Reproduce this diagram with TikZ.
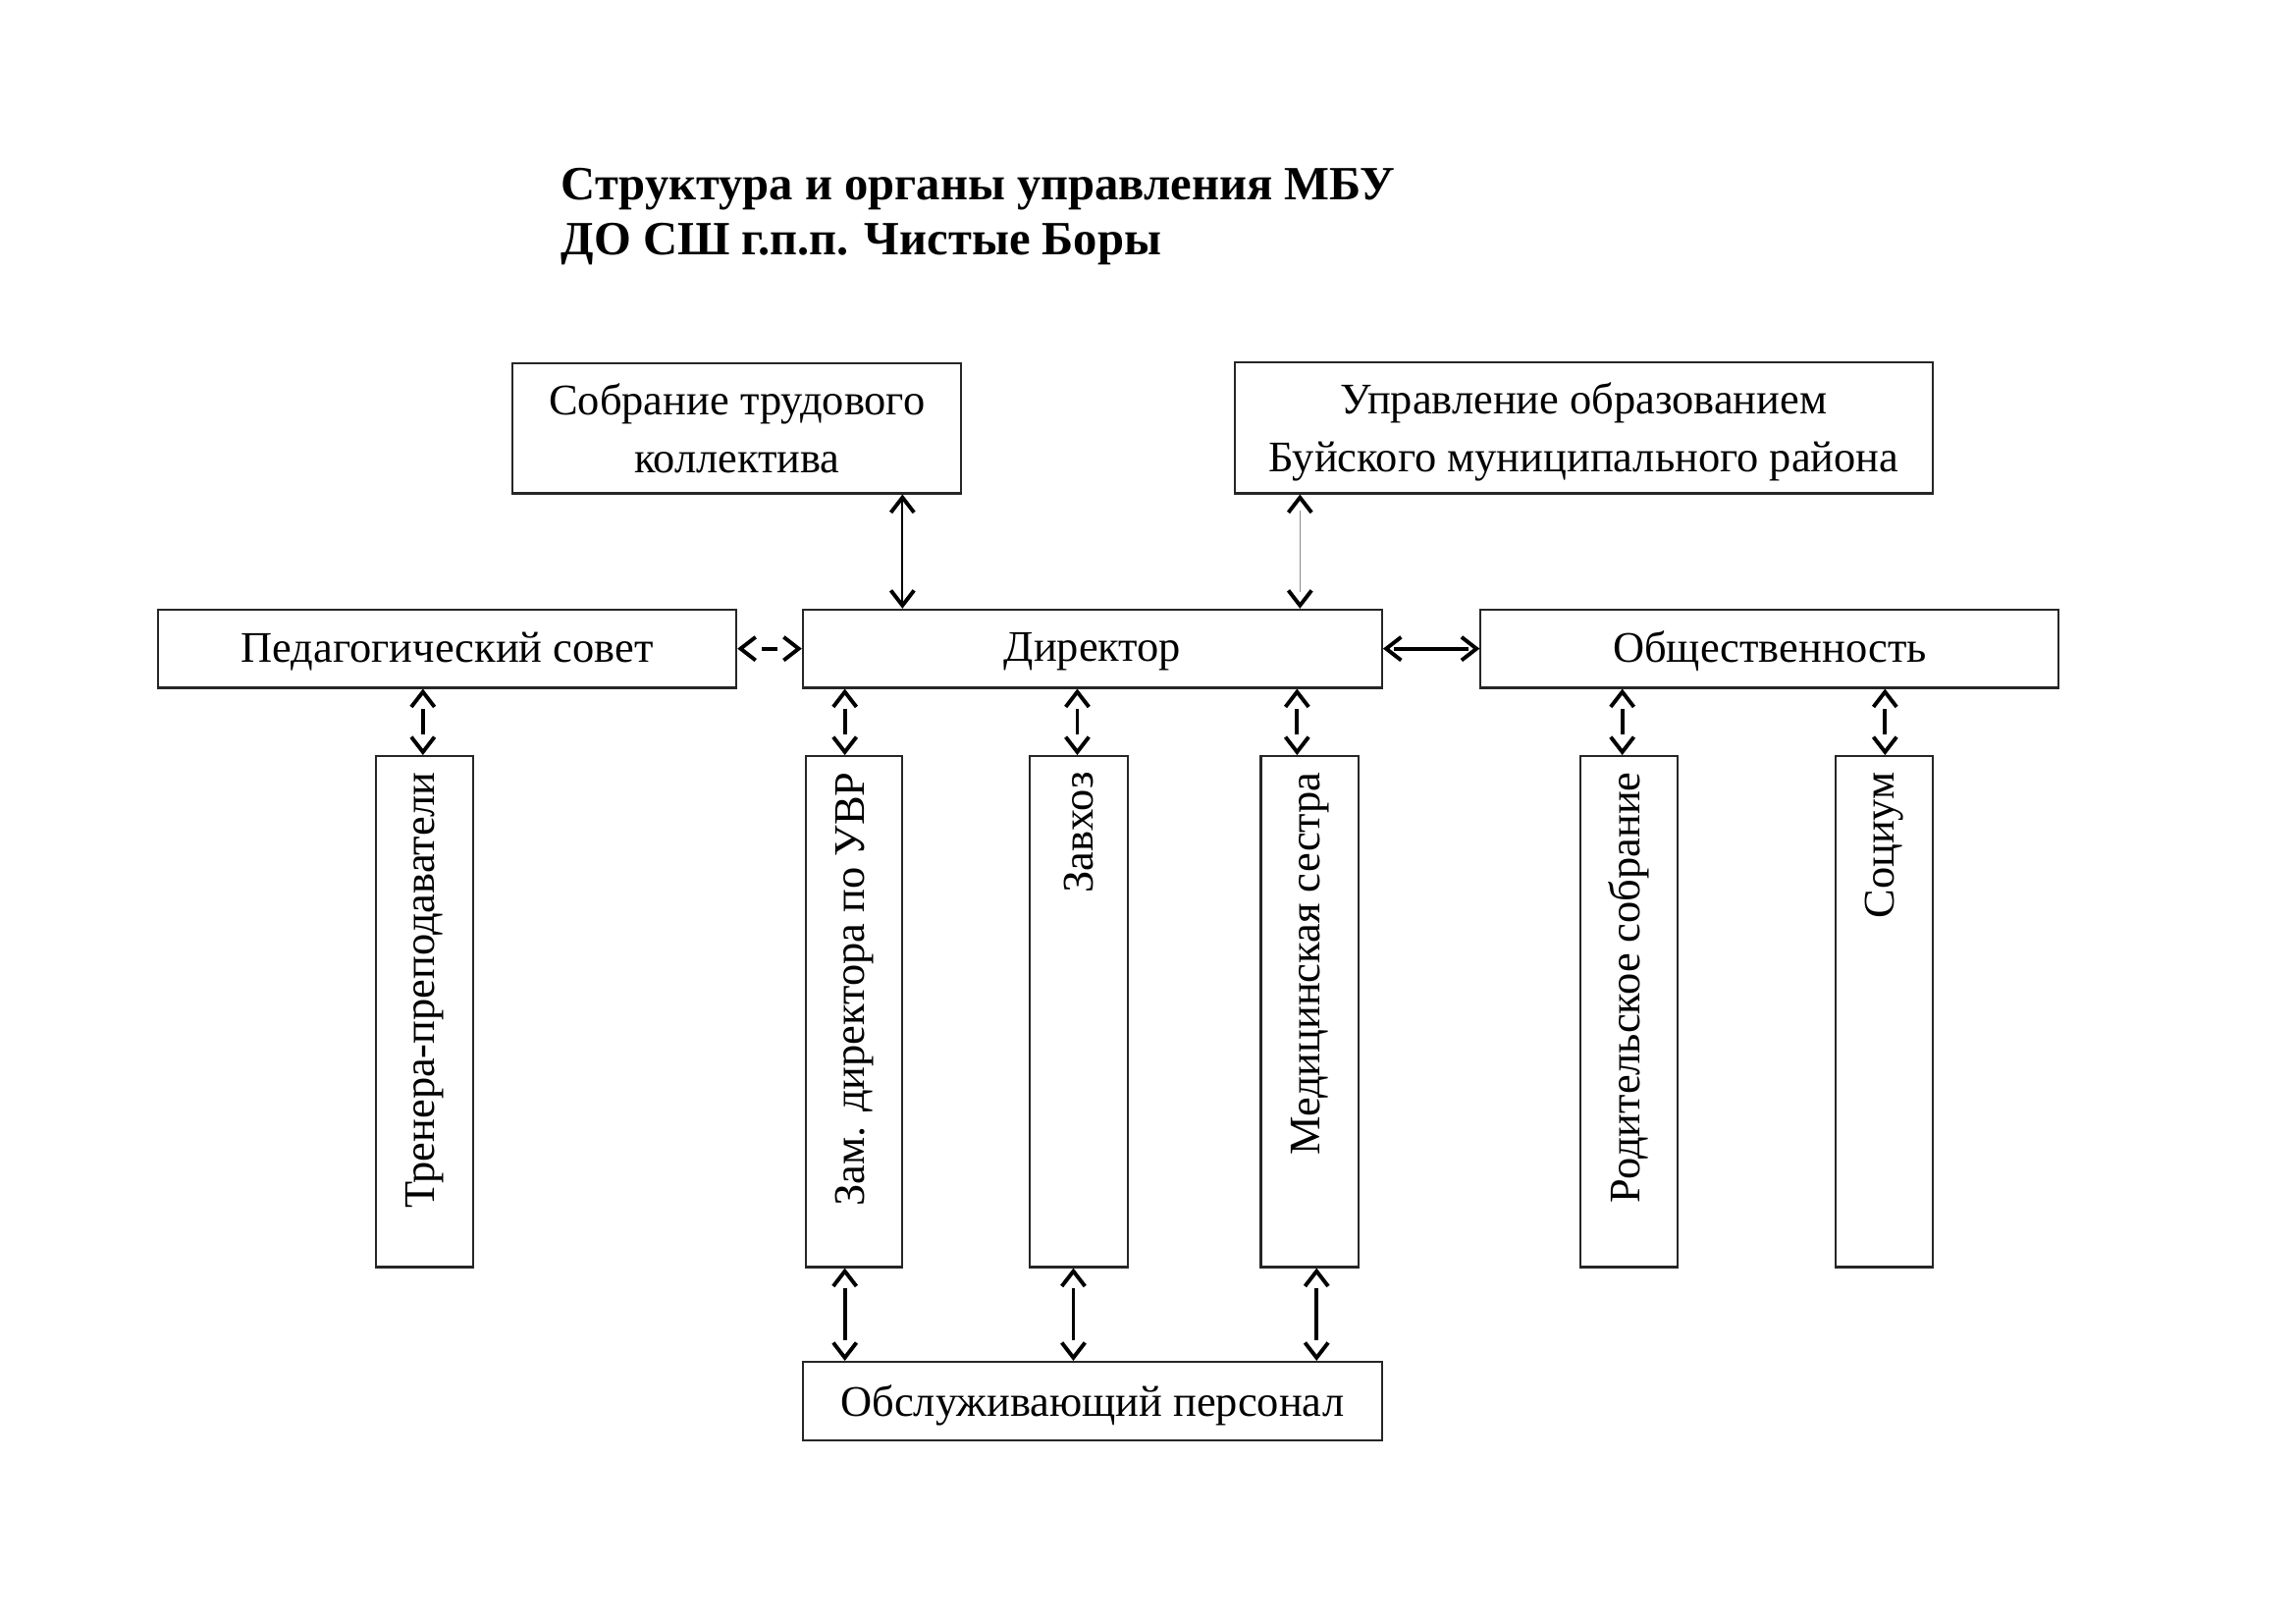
\documentclass[tikz,border=0pt]{standalone}
\usepackage{fontspec}
\setmainfont{Liberation Serif}
\usetikzlibrary{arrows.meta,fit}
\tikzset{
  box/.style={draw=black!85, line width=0.75pt, inner sep=0pt},
  txt/.style={font=\fontsize{16}{21.5}\selectfont, align=center, inner sep=0pt},
  vtxt/.style={font=\fontsize{16}{19}\selectfont, rotate=90, anchor=east, inner sep=0pt},
  barb/.tip={Straight Barb[length=5.5pt,width=8.5pt,line width=1.4pt]},
  tipsonly/.style={{barb}-{barb}, line width=1.4pt, dash pattern=on 0pt off 3000pt},
  shaft/.style={line width=1.4pt, shorten <=7.5pt, shorten >=7.5pt},
  thinshaft/.style={line width=0.75pt, shorten <=2pt, shorten >=2pt},
  hairshaft/.style={line width=0.35pt, draw=black!45, shorten <=6pt, shorten >=6pt}
}
\begin{document}
\begin{tikzpicture}[x=0.35814pt,y=-0.35814pt]
\useasboundingbox (0,0) rectangle (2350.8,1661.3);
% title
\node[anchor=north west, align=left, inner sep=0pt,
      font=\fontsize{17.5}{20}\selectfont\bfseries] (title) at (574,172)
  {Структура и органы управления МБУ\\ДО СШ г.п.п. Чистые Боры};
% top boxes
\node[box, fit={(525,372) (984,505)}] (sob) {};
\node[txt] (sobt) at (sob.center) {Собрание трудового\\коллектива};
\node[box, fit={(1264,371) (1979,505)}] (upr) {};
\node[txt] (uprt) at ([yshift=-1.5pt]upr.center) {Управление образованием\\Буйского муниципального района};
% middle row
\node[box, fit={(162,624) (754,704)}] (ped) {};
\node[txt] (pedt) at ([yshift=-1pt]ped.center) {Педагогический совет};
\node[box, fit={(822,624) (1415,704)}] (dir) {};
\node[txt] (dirt) at ([yshift=-1pt]dir.center) {Директор};
\node[box, fit={(1516,624) (2108,704)}] (obsh) {};
\node[txt] (obsht) at ([yshift=-1pt]obsh.center) {Общественность};
% vertical boxes
\node[box, fit={(385,774) (484,1297)}] (tren) {};
\node[box, fit={(825,774) (924,1297)}] (zam) {};
\node[box, fit={(1054,774) (1155,1297)}] (zav) {};
\node[box, fit={(1291,774) (1391,1297)}] (med) {};
\node[box, fit={(1618,774) (1718,1297)}] (rod) {};
\node[box, fit={(1879,774) (1979,1297)}] (soc) {};
\node[vtxt] (trent) at ([yshift=-6pt]tren.north) {Тренера-преподаватели};
\node[vtxt] (zamt) at ([yshift=-6pt]zam.north) {Зам. директора по УВР};
\node[vtxt] (zavt) at ([yshift=-6pt]zav.north) {Завхоз};
\node[vtxt] (medt) at ([yshift=-6pt]med.north) {Медицинская сестра};
\node[vtxt] (rodt) at ([yshift=-6pt]rod.north) {Родительское собрание};
\node[vtxt] (soct) at ([yshift=-6pt]soc.north) {Социум};
% bottom box
\node[box, fit={(822,1394) (1415,1474)}] (obs) {};
\node[txt] (obst) at ([yshift=-1.5pt]obs.center) {Обслуживающий персонал};
% arrow x positions
\coordinate (xa) at (924,0);
\coordinate (xb) at (1331,0);
\coordinate (x1) at (433,0);
\coordinate (x2) at (865,0);
\coordinate (x3) at (1103,0);
\coordinate (x4) at (1328,0);
\coordinate (x5) at (1661,0);
\coordinate (x6) at (1930,0);
\coordinate (y1) at (0,664);
% upper arrows
\draw[thinshaft] (sob.south -| xa) -- (dir.north -| xa);
\draw[tipsonly]  (sob.south -| xa) -- (dir.north -| xa);
\draw[hairshaft] (upr.south -| xb) -- (dir.north -| xb);
\draw[tipsonly]  (upr.south -| xb) -- (dir.north -| xb);
% horizontal arrows
\draw[shaft, shorten <=9pt, shorten >=9pt] (ped.east |- y1) -- (dir.west |- y1);
\draw[tipsonly] (ped.east |- y1) -- (dir.west |- y1);
\draw[shaft, shorten <=4pt, shorten >=4pt] (dir.east |- y1) -- (obsh.west |- y1);
\draw[tipsonly] (dir.east |- y1) -- (obsh.west |- y1);
% short vertical arrows
\foreach \up/\dn/\xx in {ped/tren/x1, dir/zam/x2, dir/zav/x3, dir/med/x4, obsh/rod/x5, obsh/soc/x6}{
  \draw[shaft] (\up.south -| \xx) -- (\dn.north -| \xx);
  \draw[tipsonly] (\up.south -| \xx) -- (\dn.north -| \xx);
}
% bottom arrows
\coordinate (b1) at (865,0);
\coordinate (b2) at (1099,0);
\coordinate (b3) at (1348,0);
\foreach \up/\xx in {zam/b1, zav/b2, med/b3}{
  \draw[shaft] (\up.south -| \xx) -- (obs.north -| \xx);
  \draw[tipsonly] (\up.south -| \xx) -- (obs.north -| \xx);
}
\end{tikzpicture}
\end{document}
